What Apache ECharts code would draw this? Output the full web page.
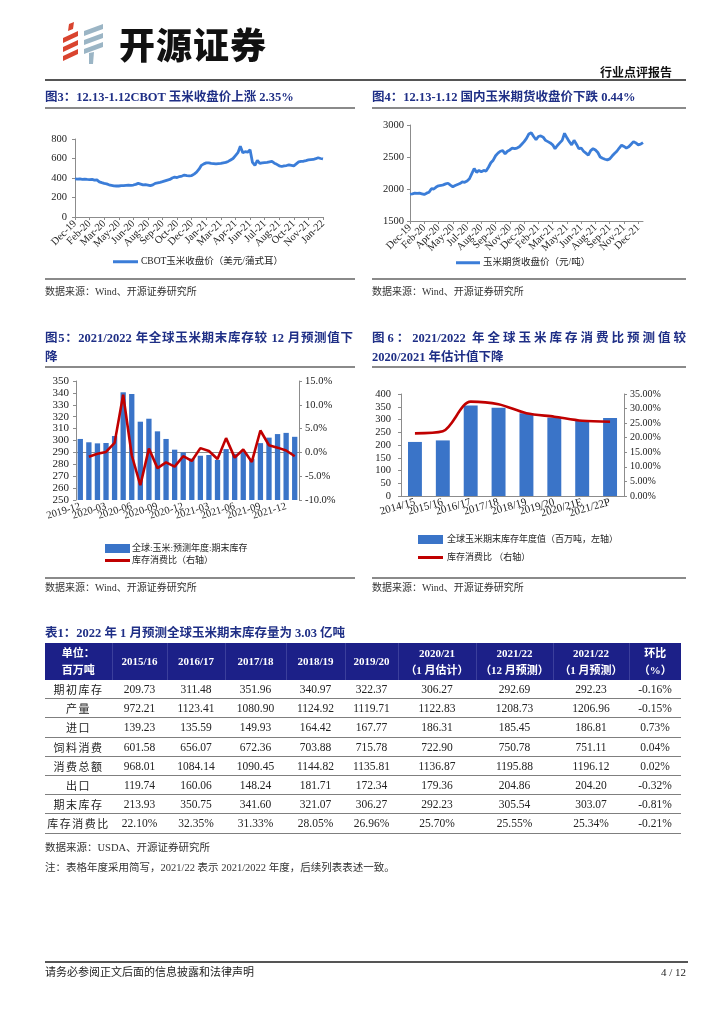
<!DOCTYPE html>
<html><head><meta charset="utf-8">
<script src="https://cdn.jsdelivr.net/npm/echarts/dist/echarts.min.js"></script>
<style>
html,body{margin:0;padding:0;background:#fff;}
body{width:724px;height:1024px;position:relative;overflow:hidden;font-family:"Liberation Serif","Noto Sans CJK SC",serif;color:#222;}
#c{position:absolute;left:0;top:0;width:724px;height:1024px;}
.a{position:absolute;white-space:nowrap;}
.title{font-weight:bold;font-size:12.5px;color:#1f2f86;line-height:16px;}
.hl{position:absolute;height:1.5px;background:#8a8a8a;}
.src{font-size:10px;color:#333;line-height:12px;}
table{position:absolute;left:45px;top:643px;width:636px;border-collapse:collapse;table-layout:fixed;}
th{background:#1c2088;color:#fff;font-weight:bold;font-size:11px;line-height:17px;height:37px;padding:0;text-align:center;border-right:1px solid #3b3f9c;}
th:last-child{border-right:none;}
td{height:18.2px;padding:0;text-align:center;font-size:11.5px;border-bottom:1.5px solid #7f7f7f;color:#222;}
td.lab{letter-spacing:1.5px;font-size:11px;}
</style></head>
<body>
<div id="c"></div>

<!-- header -->
<svg class="a" style="left:0;top:0" width="724" height="90">
  <g fill="#d9442f">
    <polygon points="69,24 74,22 73,29 68,31"/>
    <polygon points="63,38 78,31 78,36 63,43"/>
    <polygon points="63,47 78,40 78,45 63,52"/>
    <polygon points="63,56 78,49 78,54 63,61"/>
  </g>
  <g fill="#9bb5c5">
    <polygon points="84,31 103,24 103,29 84,36"/>
    <polygon points="84,40 103,33 103,38 84,45"/>
    <polygon points="84,49 103,42 103,47 84,54"/>
    <polygon points="89,53 94,52 93,64 89,64"/>
  </g>
</svg>
<div class="a" style="left:119px;top:21px;font-family:'Noto Sans CJK SC';font-weight:900;font-size:36px;line-height:44px;color:#111;letter-spacing:1px;">开源证券</div>
<div class="a" style="right:52px;top:65px;font-family:'Noto Sans CJK SC';font-weight:bold;font-size:12px;line-height:14px;color:#111;">行业点评报告</div>
<div class="a" style="left:45px;top:79px;width:641px;height:2px;background:#555;"></div>

<!-- figure titles -->
<div class="a title" style="left:45px;top:89px;">图3：12.13-1.12CBOT 玉米收盘价上涨 2.35%</div>
<div class="hl" style="left:45px;top:107px;width:310px;"></div>
<div class="a title" style="left:372px;top:89px;">图4：12.13-1.12 国内玉米期货收盘价下跌 0.44%</div>
<div class="hl" style="left:372px;top:107px;width:314px;"></div>

<div class="hl" style="left:45px;top:278px;width:310px;"></div>
<div class="hl" style="left:372px;top:278px;width:314px;"></div>
<div class="a src" style="left:45px;top:286px;">数据来源：Wind、开源证券研究所</div>
<div class="a src" style="left:372px;top:286px;">数据来源：Wind、开源证券研究所</div>

<div class="a title" style="left:45px;top:330px;width:308px;text-align:justify;text-align-last:justify;">图5：2021/2022 年全球玉米期末库存较 12 月预测值下</div>
<div class="a title" style="left:45px;top:349px;">降</div>
<div class="hl" style="left:45px;top:366px;width:310px;"></div>
<div class="a title" style="left:372px;top:330px;width:314px;text-align:justify;text-align-last:justify;">图6：2021/2022 年全球玉米库存消费比预测值较</div>
<div class="a title" style="left:372px;top:349px;">2020/2021 年估计值下降</div>
<div class="hl" style="left:372px;top:366px;width:314px;"></div>

<div class="hl" style="left:45px;top:577px;width:310px;"></div>
<div class="hl" style="left:372px;top:577px;width:314px;"></div>
<div class="a src" style="left:45px;top:582px;">数据来源：Wind、开源证券研究所</div>
<div class="a src" style="left:372px;top:582px;">数据来源：Wind、开源证券研究所</div>

<div class="a title" style="left:45px;top:625px;">表1：2022 年 1 月预测全球玉米期末库存量为 3.03 亿吨</div>
<table id="tbl"></table>
<div class="a src" style="left:45px;top:842px;font-size:10.5px;">数据来源：USDA、开源证券研究所</div>
<div class="a src" style="left:45px;top:862px;font-size:10.5px;">注：表格年度采用简写，2021/22 表示 2021/2022 年度，后续列表表述一致。</div>

<!-- footer -->
<div class="a" style="left:45px;top:961px;width:643px;height:2px;background:#555;"></div>
<div class="a" style="left:45px;top:965px;font-size:11px;line-height:14px;color:#222;">请务必参阅正文后面的信息披露和法律声明</div>
<div class="a" style="right:38px;top:965px;font-size:11px;line-height:14px;color:#222;">4 / 12</div>

<script>
// ---------- Figure 3: CBOT corn close (weekly readings) ----------
const cbotTicks = ['Dec-19','Feb-20','Mar-20','May-20','Jun-20','Aug-20','Sep-20','Oct-20','Dec-20','Jan-21','Mar-21','Apr-21','Jun-21','Jul-21','Aug-21','Oct-21','Nov-21','Jan-22'];
const cbotValues = [390,388,390,386,388,385,384,385,378,380,
  360,352,345,340,330,325,320,318,318,322,
  322,324,326,325,328,335,345,338,330,332,
  328,322,330,345,350,355,362,370,378,385,
  400,410,405,415,420,430,425,422,425,440,
  460,490,530,545,555,555,550,548,545,548,
  550,555,560,570,585,600,630,660,725,660,
  670,665,690,560,530,580,550,555,558,560,
  565,570,552,540,525,518,525,528,535,530,
  525,545,565,570,572,578,585,588,590,598,
  608,600,595];

// ---------- Figure 4: domestic corn futures close ----------
const cnTicks = ['Dec-19','Feb-20','Apr-20','May-20','Jul-20','Aug-20','Sep-20','Nov-20','Dec-20','Feb-21','Mar-21','May-21','Jun-21','Aug-21','Sep-21','Nov-21','Dec-21'];
const cnValues = [1920,1925,1935,1930,1935,1925,1915,1935,1950,2005,
  2000,2030,2050,2055,2065,2080,2090,2060,2035,2055,
  2070,2085,2110,2105,2125,2160,2240,2320,2260,2290,
  2270,2290,2280,2340,2410,2450,2520,2560,2590,2600,
  2550,2590,2610,2640,2630,2640,2660,2700,2740,2790,
  2860,2880,2820,2770,2820,2830,2810,2760,2740,2720,
  2690,2630,2680,2720,2760,2870,2800,2740,2690,2760,
  2700,2630,2640,2590,2560,2530,2600,2630,2610,2570,
  2500,2480,2465,2455,2470,2515,2555,2590,2640,2685,
  2665,2640,2660,2700,2740,2720,2690,2700,2725];

// ---------- Figure 5 ----------
const f5Months = ['2019-12','2020-01','2020-02','2020-03','2020-04','2020-05','2020-06','2020-07','2020-08','2020-09','2020-10','2020-11','2020-12','2021-01','2021-02','2021-03','2021-04','2021-05','2021-06','2021-07','2021-08','2021-09','2021-10','2021-11','2021-12','2022-01'];
const f5Stocks = [301.3,298.5,297.6,297.9,303.8,340.5,339.1,315.8,318.3,307.7,301.3,292.3,290.0,284.8,287.2,287.8,283.7,292.8,288.8,290.5,284.6,297.8,302.4,305.4,306.4,303.1];
const f5Ratio = [null,-0.9,-0.3,0.1,2.0,12.1,-0.6,-6.9,0.8,-3.3,-2.1,-3.0,-0.8,-1.8,0.9,0.3,-1.4,3.0,-1.1,0.6,-2.0,4.6,1.5,1.0,0.4,-0.8];

// ---------- Figure 6 ----------
const f6Years = ['2014/15','2015/16','2016/17','2017/18','2018/19','2019/20','2020/21E','2021/22P'];
const f6Stocks = [212,218,355,346,325,308,296,306];
const f6Ratio = [21.5,22.2,32.4,31.5,28.4,27.2,25.8,25.5];

// ---------- Table 1 ----------
const tblCols = ['2015/16','2016/17','2017/18','2018/19','2019/20','2020/21','2021/22','2021/22','环比'];
const tblColsSub = ['','','','','','（1 月估计）','（12 月预测）','（1 月预测）','（%）'];
const tblRowLabels = ['期初库存','产量','进口','饲料消费','消费总额','出口','期末库存','库存消费比'];
const tblValues = [
  ['209.73','311.48','351.96','340.97','322.37','306.27','292.69','292.23','-0.16%'],
  ['972.21','1123.41','1080.90','1124.92','1119.71','1122.83','1208.73','1206.96','-0.15%'],
  ['139.23','135.59','149.93','164.42','167.77','186.31','185.45','186.81','0.73%'],
  ['601.58','656.07','672.36','703.88','715.78','722.90','750.78','751.11','0.04%'],
  ['968.01','1084.14','1090.45','1144.82','1135.81','1136.87','1195.88','1196.12','0.02%'],
  ['119.74','160.06','148.24','181.71','172.34','179.36','204.86','204.20','-0.32%'],
  ['213.93','350.75','341.60','321.07','306.27','292.23','305.54','303.07','-0.81%'],
  ['22.10%','32.35%','31.33%','28.05%','26.96%','25.70%','25.55%','25.34%','-0.21%']
];

// build table
(function(){
  const widths = [67,55,58,61,59,53,78,77,76,52];
  let h = '<colgroup>' + widths.map(w=>'<col style="width:'+w+'px">').join('') + '</colgroup>';
  h += '<tr><th>单位：<br>百万吨</th>' + tblCols.map((c,i)=>'<th>'+c+(tblColsSub[i]?'<br>'+tblColsSub[i]:'')+'</th>').join('') + '</tr>';
  tblRowLabels.forEach((lab,r)=>{
    h += '<tr><td class="lab">'+lab+'</td>' + tblValues[r].map(v=>'<td>'+v+'</td>').join('') + '</tr>';
  });
  document.getElementById('tbl').innerHTML = h;
})();

function cats(values, ticks, step){
  return values.map((v,i)=> i%step===0 && ticks[i/step] ? ticks[i/step] : 'p'+i);
}
const STEP = 6;
const serif = 'Liberation Serif';
const cjk = "'Liberation Serif','Noto Sans CJK SC'";
const axisGray = '#8c8c8c';
const lbl = (fs)=>({fontFamily:serif, fontSize:fs, color:'#222'});
const plain = (v)=>String(v);
// show every label slot (interval 0) but blank the in-between categories
const tickOnly = (v)=> (v.charAt(0)==='p' ? '' : v);
const every3 = (v,i)=> (i%3===0 ? v : '');

const chart = echarts.init(document.getElementById('c'), null, {renderer:'canvas', width:724, height:1024});
chart.setOption({
  animation:false,
  grid:[
    {left:75, top:139, width:248, height:78},
    {left:410, top:125, width:233, height:96},
    {left:76, top:381, width:223, height:119},
    {left:401, top:394, width:223, height:102}
  ],
  xAxis:[
    {gridIndex:0, type:'category', boundaryGap:false, data:cats(cbotValues,cbotTicks,STEP),
     axisLine:{lineStyle:{color:axisGray}}, axisTick:{interval:(i)=>i%STEP===0, length:3, lineStyle:{color:axisGray}},
     axisLabel:Object.assign(lbl(10.5),{interval:0, formatter:tickOnly, rotate:45, margin:5})},
    {gridIndex:1, type:'category', boundaryGap:false, data:cats(cnValues,cnTicks,STEP),
     axisLine:{lineStyle:{color:axisGray}}, axisTick:{interval:(i)=>i%STEP===0, length:3, lineStyle:{color:axisGray}},
     axisLabel:Object.assign(lbl(10.5),{interval:0, formatter:tickOnly, rotate:45, margin:5})},
    {gridIndex:2, type:'category', data:f5Months,
     axisLine:{lineStyle:{color:axisGray}}, axisTick:{show:false},
     axisLabel:Object.assign(lbl(10.5),{interval:0, formatter:every3, rotate:17, margin:6})},
    {gridIndex:3, type:'category', data:f6Years,
     axisLine:{lineStyle:{color:axisGray}}, axisTick:{show:false},
     axisLabel:Object.assign(lbl(11),{interval:0, rotate:16, margin:6})}
  ],
  yAxis:[
    {gridIndex:0, min:0, max:800, interval:200, splitLine:{show:false},
     axisLine:{show:true,lineStyle:{color:axisGray}}, axisTick:{show:true,length:3,lineStyle:{color:axisGray}},
     axisLabel:Object.assign(lbl(10.5),{margin:8, formatter:plain})},
    {gridIndex:1, min:1500, max:3000, interval:500, splitLine:{show:false},
     axisLine:{show:true,lineStyle:{color:axisGray}}, axisTick:{show:true,length:3,lineStyle:{color:axisGray}},
     axisLabel:Object.assign(lbl(10.5),{margin:6, formatter:plain})},
    {gridIndex:2, min:250, max:350, interval:10, splitLine:{show:false},
     axisLine:{show:true,lineStyle:{color:axisGray}}, axisTick:{show:true,length:3,lineStyle:{color:axisGray}},
     axisLabel:Object.assign(lbl(11),{margin:7, formatter:plain})},
    {gridIndex:2, position:'right', min:-10, max:15, interval:5, splitLine:{show:false},
     axisLine:{show:true,lineStyle:{color:axisGray}}, axisTick:{show:true,length:3,lineStyle:{color:axisGray}},
     axisLabel:Object.assign(lbl(10.5),{margin:6, formatter:(v)=>v.toFixed(1)+'%'})},
    {gridIndex:3, min:0, max:400, interval:50, splitLine:{show:false},
     axisLine:{show:true,lineStyle:{color:axisGray}}, axisTick:{show:true,length:3,lineStyle:{color:axisGray}},
     axisLabel:Object.assign(lbl(10.5),{margin:10, formatter:plain})},
    {gridIndex:3, position:'right', min:0, max:35, interval:5, splitLine:{show:false},
     axisLine:{show:true,lineStyle:{color:axisGray}}, axisTick:{show:true,length:3,lineStyle:{color:axisGray}},
     axisLabel:Object.assign(lbl(10),{margin:6, formatter:(v)=>v.toFixed(2)+'%'})}
  ],
  legend:[
    {data:['CBOT玉米收盘价（美元/蒲式耳）'], left:108, top:252, icon:'rect', itemWidth:25, itemHeight:3, itemGap:4,
     textStyle:{fontFamily:cjk, fontSize:9.5, color:'#222', padding:[0,0,0,-2]}},
    {data:['玉米期货收盘价（元/吨）'], left:451, top:253, icon:'rect', itemWidth:24, itemHeight:3,
     textStyle:{fontFamily:cjk, fontSize:9.5, color:'#222', padding:[0,0,0,-2]}},
    {data:['全球:玉米:预测年度:期末库存'], left:100, top:539, icon:'rect', itemWidth:25, itemHeight:9,
     textStyle:{fontFamily:cjk, fontSize:9, color:'#222', padding:[0,0,0,-3]}},
    {data:['库存消费比（右轴）'], left:100, top:551, icon:'rect', itemWidth:25, itemHeight:3,
     textStyle:{fontFamily:cjk, fontSize:9, color:'#222', padding:[0,0,0,-3]}},
    {data:['全球玉米期末库存年度值（百万吨，左轴）'], left:413, top:530, icon:'rect', itemWidth:25, itemHeight:9,
     textStyle:{fontFamily:cjk, fontSize:9, color:'#222', padding:[0,0,0,-1]}},
    {data:['库存消费比 （右轴）'], left:413, top:548, icon:'rect', itemWidth:25, itemHeight:3,
     textStyle:{fontFamily:cjk, fontSize:9, color:'#222', padding:[0,0,0,-1]}}
  ],
  series:[
    {name:'CBOT玉米收盘价（美元/蒲式耳）', type:'line', xAxisIndex:0, yAxisIndex:0, data:cbotValues,
     showSymbol:false, lineStyle:{width:2.8, color:'#3b7dd8'}, itemStyle:{color:'#3b7dd8'}},
    {name:'玉米期货收盘价（元/吨）', type:'line', xAxisIndex:1, yAxisIndex:1, data:cnValues,
     showSymbol:false, lineStyle:{width:2.8, color:'#3b7dd8'}, itemStyle:{color:'#3b7dd8'}},
    {name:'全球:玉米:预测年度:期末库存', type:'bar', xAxisIndex:2, yAxisIndex:2, data:f5Stocks,
     barWidth:'62%', itemStyle:{color:'#3a74c8'}},
    {name:'库存消费比（右轴）', type:'line', xAxisIndex:2, yAxisIndex:3, data:f5Ratio,
     showSymbol:false, lineStyle:{width:2.6, color:'#c00000'}, itemStyle:{color:'#c00000'}},
    {name:'全球玉米期末库存年度值（百万吨，左轴）', type:'bar', xAxisIndex:3, yAxisIndex:4, data:f6Stocks,
     barWidth:'50%', itemStyle:{color:'#3a74c8'}},
    {name:'库存消费比 （右轴）', type:'line', xAxisIndex:3, yAxisIndex:5, data:f6Ratio, smooth:0.3,
     showSymbol:false, lineStyle:{width:2.6, color:'#c00000'}, itemStyle:{color:'#c00000'}}
  ]
});
</script>
</body></html>
